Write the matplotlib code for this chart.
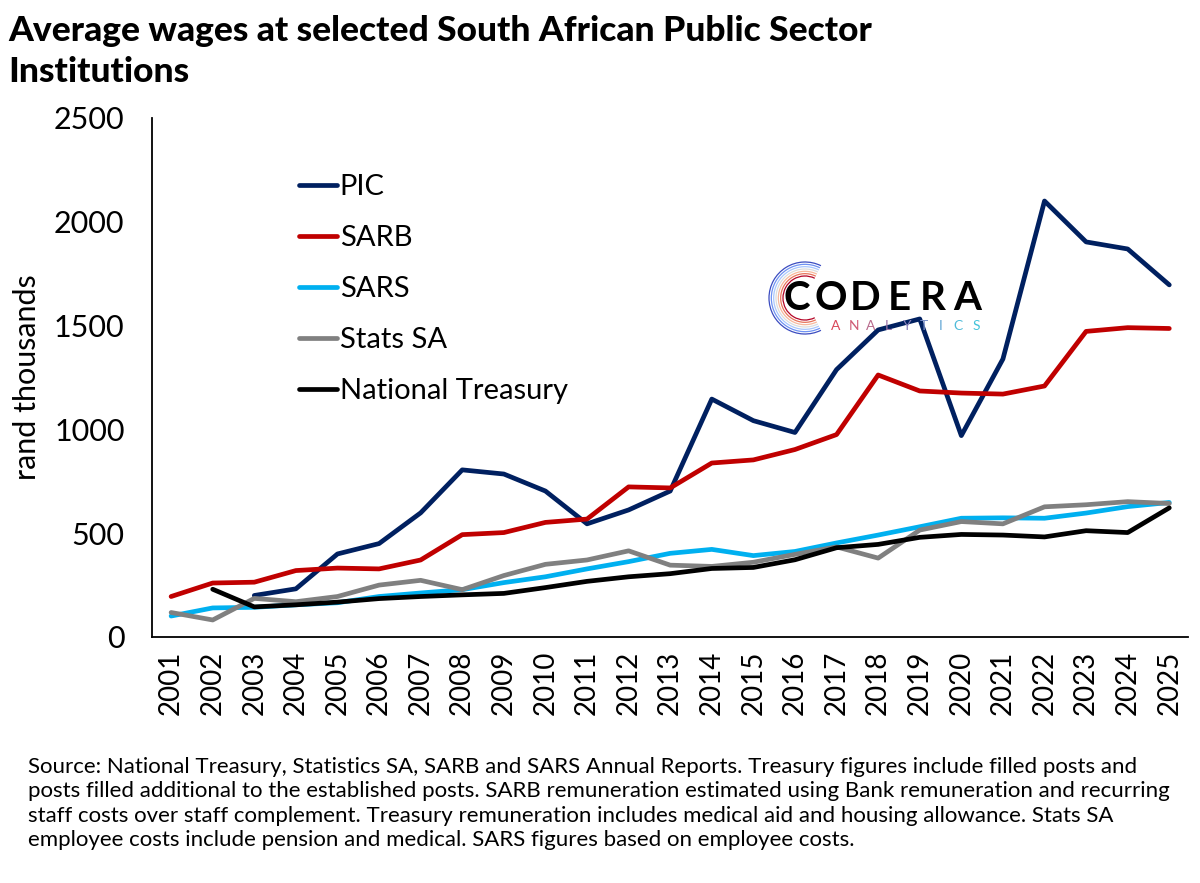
import numpy as np
import matplotlib
matplotlib.use("Agg")
from matplotlib import pyplot as plt
from matplotlib.patches import Arc

plt.rcParams['font.family'] = ['Lato', 'DejaVu Sans']

years = list(range(2001, 2026))
nan = np.nan

# rand thousands
pic = [nan, nan, 200, 232, 400, 450, 598, 805, 785, 703, 545, 612, 703, 1146,
       1042, 985, 1288, 1479, 1532, 970, 1339, 2100, 1903, 1869, 1696]
sarb = [195, 260, 264, 320, 332, 328, 371, 493, 503, 552, 568, 723, 718, 838,
        853, 903, 975, 1262, 1185, 1175, 1170, 1209, 1472, 1490, 1486]
sars = [101, 140, 143, 155, 165, 195, 212, 228, 262, 290, 328, 363, 403, 422,
        392, 412, 453, 491, 531, 572, 574, 572, 597, 628, 648]
stats = [118, 82, 186, 170, 195, 250, 273, 228, 296, 350, 371, 415, 346, 340,
         360, 398, 434, 380, 515, 556, 545, 627, 637, 652, 643]
treasury = [nan, 230, 145, 155, 168, 185, 195, 203, 210, 238, 268, 290, 305, 330,
            335, 372, 430, 446, 480, 494, 491, 482, 512, 503, 622]

series = [("PIC", pic, "#002060"),
          ("SARB", sarb, "#C00000"),
          ("SARS", sars, "#00B0F0"),
          ("Stats SA", stats, "#808080"),
          ("National Treasury", treasury, "#000000")]

fig = plt.figure(figsize=(12, 8.83), dpi=100)
ax = fig.add_axes([0.127, 0.2786, 0.863, 0.5878])

for name, vals, col in series:
    ax.plot(years, vals, color=col, lw=3.4, label=name, solid_capstyle='round')

ax.set_ylim(0, 2500)
ax.set_yticks(range(0, 2501, 500))
ax.set_xlim(2000.55, 2025.45)
ax.set_xticks(years)
ax.set_xticklabels([str(y) for y in years], rotation=90)
ax.tick_params(axis='y', length=0, pad=20, labelsize=22)
ax.tick_params(axis='x', length=0, pad=10, labelsize=20)
for s in ['top', 'right']:
    ax.spines[s].set_visible(False)
for s in ['left', 'bottom']:
    ax.spines[s].set_linewidth(1.3)
ax.set_ylabel("rand thousands", fontsize=22, labelpad=9)

leg = ax.legend(loc='upper left', bbox_to_anchor=(0.13, 0.915), frameon=False,
                fontsize=21, handlelength=1.3, handletextpad=0.1,
                labelspacing=0.86, borderaxespad=0)

fig.text(0.007, 0.983, "Average wages at selected South African Public Sector\nInstitutions",
         fontsize=25.5, fontweight='black', va='top', ha='left', linespacing=1.33)

note = ("Source: National Treasury, Statistics SA, SARB and SARS Annual Reports. Treasury figures include filled posts and\n"
        "posts filled additional to the established posts. SARB remuneration estimated using Bank remuneration and recurring\n"
        "staff costs over staff complement. Treasury remuneration includes medical aid and housing allowance. Stats SA\n"
        "employee costs include pension and medical. SARS figures based on employee costs.")
fig.text(0.023, 0.143, note, fontsize=16, va='top', ha='left', linespacing=1.28)

# logo
for i, ch in enumerate("CODERA"):
    fig.text((797 + i * 34) / 1200, 1 - 298 / 883, ch, fontsize=29, fontweight='bold',
             va='center', ha='center', color='black')
logo_cols = ["#d9485a", "#cf5a74", "#b86a8c", "#9c74a8", "#8a80bb",
             "#7a90c9", "#62a7d5", "#4fbbd9", "#44c3da"]
for i, (ch, c) in enumerate(zip("ANALYTICS", logo_cols)):
    fig.text((836 + i * 17.5) / 1200, 1 - 326 / 883, ch, fontsize=10, color=c,
             va='center', ha='center')
for k, r in enumerate(np.linspace(22, 36, 7)):
    col = plt.cm.coolwarm_r(k / 6)
    fig.add_artist(Arc((805 / 1200, 1 - 298 / 883), 2 * r / 1200, 2 * r / 883,
                       theta1=70, theta2=290, transform=fig.transFigure,
                       color=col, lw=0.9))

fig.savefig("out.png", dpi=100)
